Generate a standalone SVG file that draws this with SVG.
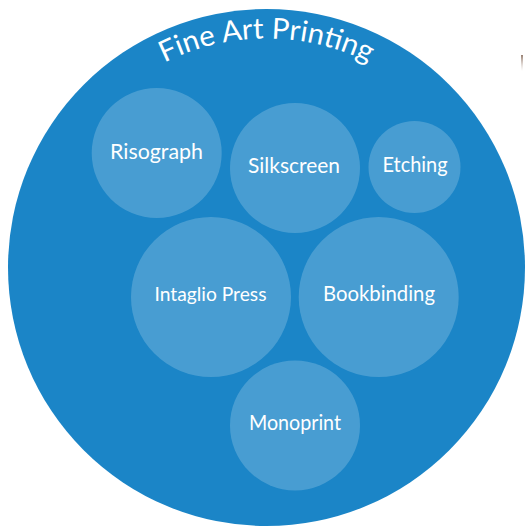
<svg xmlns="http://www.w3.org/2000/svg" width="525" height="529" viewBox="0 0 525 529">
<style>
.outer{fill:#1b85c7}
.bubble{fill:#ffffff;fill-opacity:0.2}
.lbl{font-family:Lato,"Open Sans","DejaVu Sans",sans-serif;fill:#ffffff;text-anchor:middle}
.title{font-family:Lato,"Open Sans","DejaVu Sans",sans-serif;fill:#ffffff;font-size:29px}
</style>
<defs>
<path id="titleArc" d="M 37.5 267.5 A 229 229 0 0 1 495.5 267.5"/>
<linearGradient id="mark" x1="0" y1="0" x2="0" y2="1">
<stop offset="0" stop-color="#8a7060" stop-opacity="0.9"/>
<stop offset="1" stop-color="#c8b8b0" stop-opacity="0"/>
</linearGradient>
</defs>
<rect x="521" y="55" width="2" height="16" fill="url(#mark)"/>
<g id="fine-art-printing">
<circle class="outer" cx="266.5" cy="267.5" r="258.5"/>
<text class="title"><textPath href="#titleArc" startOffset="50%" text-anchor="middle" textLength="212" lengthAdjust="spacingAndGlyphs">Fine Art Printing</textPath></text>
</g>
<g id="connectors"></g>
<g id="risograph">
<circle class="bubble" cx="156.7" cy="153" r="65"/>
<text class="lbl" x="156.5" y="159" font-size="22" textLength="93" lengthAdjust="spacingAndGlyphs">Risograph</text>
</g>
<g id="silkscreen">
<circle class="bubble" cx="295" cy="168" r="65"/>
<text class="lbl" x="294" y="172.7" font-size="22" textLength="92" lengthAdjust="spacingAndGlyphs">Silkscreen</text>
</g>
<g id="etching">
<circle class="bubble" cx="414.5" cy="167" r="46"/>
<text class="lbl" x="415" y="172.3" font-size="21" textLength="65" lengthAdjust="spacingAndGlyphs">Etching</text>
</g>
<g id="intaglio-press">
<circle class="bubble" cx="211" cy="297" r="80"/>
<text class="lbl" x="210.5" y="300.7" font-size="19" textLength="112" lengthAdjust="spacingAndGlyphs">Intaglio Press</text>
</g>
<g id="bookbinding">
<circle class="bubble" cx="378.7" cy="297" r="80"/>
<text class="lbl" x="379" y="300.7" font-size="21" textLength="112" lengthAdjust="spacingAndGlyphs">Bookbinding</text>
</g>
<g id="monoprint">
<circle class="bubble" cx="295" cy="425.4" r="65"/>
<text class="lbl" x="295" y="430" font-size="21" textLength="92" lengthAdjust="spacingAndGlyphs">Monoprint</text>
</g>
</svg>
